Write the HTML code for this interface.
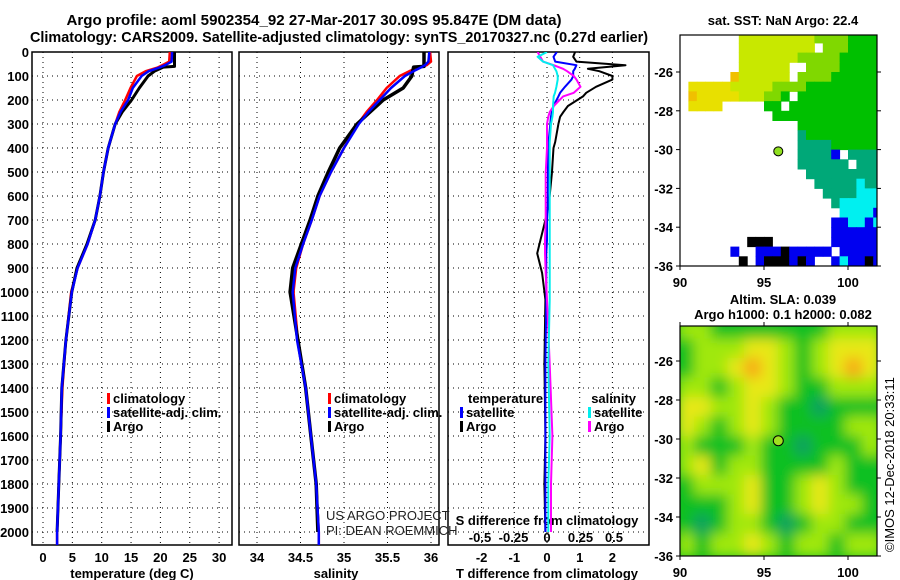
<!DOCTYPE html>
<html><head><meta charset="utf-8"><style>
html,body{margin:0;padding:0;background:#fff;}
svg{display:block;font-family:"Liberation Sans",sans-serif;}
.b{font-weight:bold;font-size:13px;}
.t{font-weight:bold;font-size:15px;}
</style></head><body>
<svg id="root" width="900" height="580" viewBox="0 0 900 580">
<defs>
<clipPath id="c1"><rect x="32" y="52" width="200" height="493"/></clipPath>
<clipPath id="c2"><rect x="239" y="52" width="200" height="493"/></clipPath>
<clipPath id="c3"><rect x="448" y="52" width="201" height="493"/></clipPath>
<clipPath id="cm2"><rect x="680" y="326" width="197" height="230"/></clipPath>
<filter id="blur" x="-10%" y="-10%" width="120%" height="120%"><feGaussianBlur stdDeviation="6.5"/></filter>
</defs>
<text x="314" y="25" text-anchor="middle" class="t" textLength="495" lengthAdjust="spacingAndGlyphs">Argo profile: aoml 5902354_92 27-Mar-2017 30.09S 95.847E (DM data)</text>
<text x="339" y="42" text-anchor="middle" class="t" textLength="618" lengthAdjust="spacingAndGlyphs">Climatology: CARS2009. Satellite-adjusted climatology: synTS_20170327.nc (0.27d earlier)</text>
<g id="g"></g>
</svg>
<script>
// ---- profile data ----
var depthsT = [0,40,55,65,80,100,150,200,250,300,400,500,600,700,800,900,1000,1200,1400,1600,1800,2000,2060];
var tempClim = [21.6,21.5,20.3,19.5,17.5,16.0,14.9,14.0,13.0,12.3,11.1,10.3,9.7,8.9,7.6,5.9,4.8,3.9,3.3,3.0,2.7,2.4,2.4];
var tempSat  = [22.0,21.9,20.8,19.8,18.0,16.8,15.3,14.5,13.2,12.3,11.1,10.3,9.7,8.9,7.6,5.9,4.9,3.9,3.2,3.0,2.7,2.4,2.4];
var depthsA = [0,60,63,80,100,150,200,250,300,400,500,600,700,800,900,1000,1200,1400,1600,1800,2000];
var tempArgo = [22.4,22.4,20.5,19.0,17.9,16.4,15.1,13.5,12.3,11.1,10.3,9.7,8.9,7.5,5.8,4.9,3.9,3.2,3.0,2.7,2.4];
var salClim = [35.99,36.0,35.95,35.85,35.75,35.64,35.49,35.38,35.26,35.16,35.0,34.85,34.72,34.63,34.53,34.45,34.42,34.47,34.56,34.62,34.68,34.71,34.71];
var salSat  = [35.98,35.97,35.93,35.88,35.80,35.70,35.54,35.41,35.28,35.17,35.0,34.85,34.72,34.63,34.53,34.44,34.41,34.46,34.56,34.62,34.68,34.71,34.71];
var salArgo = [35.92,35.92,35.80,35.79,35.78,35.68,35.45,35.30,35.15,34.95,34.82,34.70,34.61,34.51,34.41,34.38,34.47,34.56,34.62,34.68,34.70];
// ---- difference data ----
var depthsD = [0,20,40,55,70,80,100,115,145,170,185,225,250,270,300,375,400,505,644,700,783,839,921,1032,1300,1600,1800,2000];
var dTSat  = [0.3,0.2,0.25,0.9,0.85,0.8,0.8,0.75,0.55,0.4,0.35,0.2,0.15,0.12,0.1,0.05,0.03,0.03,0.02,0.0,0.0,-0.02,-0.02,-0.02,-0.05,-0.05,-0.05,-0.05];
var dTArgo = [0.86,0.8,0.9,2.4,1.25,1.6,2.0,2.0,1.5,1.2,1.1,0.64,0.5,0.4,0.35,0.25,0.2,0.15,0.05,-0.05,-0.2,-0.3,-0.15,-0.05,-0.08,-0.05,-0.08,-0.05];
var dSSat  = [0.0,-0.07,-0.03,0.045,0.06,0.07,0.08,0.08,0.07,0.06,0.05,0.045,0.045,0.04,0.03,0.02,0.02,0.02,0.02,0.02,0.02,0.02,0.02,0.02,0.01,0.02,0.01,0.01];
var dSArgo = [-0.07,-0.05,-0.03,0.05,0.12,0.15,0.2,0.22,0.25,0.2,0.12,0.05,0.02,0.01,0.0,0.0,0.0,-0.01,-0.01,-0.01,-0.015,-0.015,-0.01,0.0,0.02,0.04,0.03,0.03];
var depthTicks = [0,100,200,300,400,500,600,700,800,900,1000,1100,1200,1300,1400,1500,1600,1700,1800,1900,2000];
var tempTicks = [0,5,10,15,20,25,30];
var salTicks = [34,34.5,35,35.5,36];
var tdTicks = [-2,-1,0,1,2];
var sdTicks = [-0.5,-0.25,0,0.25,0.5];
var sdTickLabels = ["-0.5","-0.25","0","0.25","0.5"];
// ---- SST map (0.5 deg cells from 90E, -24S) ----
var sstRows = [
".......lllllllllmmmmgggg",
".......lllllllll.mmmgggg",
".......lllllllmmmmmggggg",
".......llllll..mmmmggggg",
"......ollllll.mmmmgggggg",
".yyyyylllllmmmmggggggggg",
".oyyyyylllmmg.gggggggggg",
".yyyy.....gg.ggggggggggg",
"...........ggggggggggggg",
"..............gggggggggg",
"..............tggggggggg",
"..............ttttgggggg",
"..............ttttb.tttt",
"..............tttttt.ttt",
"...............ttttttttt",
"................tttttctt",
".................ttttccc",
"..................tccccc",
"...................ccccb",
"..................bbccbc",
"..................bbbbbb",
"........kkk.......bbbbbb",
"......b..bbbkbbbbb.bbbbb",
".......k.bkkkbkb..bcbbkb"];
var sstColors = {y:"#e8e000",o:"#f0c000",l:"#c8e800",m:"#80d800",g:"#00c000",t:"#00a878",c:"#00f0f0",b:"#0000f0",k:"#000000"};
// ---- SLA map (1 deg cells from 90E, -24S) ----
var slaRows = [
[2,2,1,1,1,1,1,1,1,2,2,2],
[1,2,2,2,3,3,2,1,2,3,3,3],
[1,2,2,3,4,3,2,1,2,3,4,3],
[2,2,1,2,3,3,2,1,1,2,2,2],
[3,3,2,2,3,2,1,1,0,1,1,1],
[3,2,1,2,3,2,1,1,1,1,2,2],
[2,1,1,1,2,1,1,0,1,1,1,2],
[2,3,1,2,2,1,1,1,1,2,1,1],
[1,2,2,2,3,1,1,2,3,2,1,1],
[1,1,1,2,3,1,1,2,3,2,2,1],
[1,0,1,2,2,1,0,1,2,2,1,1],
[2,1,2,2,3,2,1,2,2,1,2,2]];
var slaColors = ["#10a060","#10c020","#a0e810","#e8e818","#f8a818"];
var floatLon = 95.85, floatLat = -30.09;

var NS="http://www.w3.org/2000/svg";
var G=document.getElementById('g');
function mk(tag,a,parent){var e=document.createElementNS(NS,tag);for(var k in a)e.setAttribute(k,a[k]);(parent||G).appendChild(e);return e;}
function txt(x,y,s,a,parent){var e=mk('text',a||{},parent);e.setAttribute('x',x);e.setAttribute('y',y);e.textContent=s;return e;}
function yD(d){return 52+d*0.24;}
function xT(t){return 43+t*5.87;}
function xS(s){return 257+(s-34)*87;}
function xTD(v){return 547+v*32.7;}
function xSD(v){return 547+v*134;}
function lonX1(l){return 680+(l-90)*16.8;}
function latY1(l){return 266-(l+36)*19.4;}
function latY2(l){return 556-(l+36)*19.5;}

var panels=[[32,'c1','temperature-panel'],[239,'c2','salinity-panel'],[448,'c3','difference-panel']];
panels.forEach(function(p){
  depthTicks.forEach(function(d){
    var l=mk('line',{x1:p[0],x2:p[0]+200,y1:yD(d),y2:yD(d),stroke:'#000','stroke-dasharray':'1,4','stroke-width':1});
    
    
  });
  var r=mk('rect',{x:p[0],y:52,width:p[0]==448?201:200,height:493,fill:'none',stroke:'#000','stroke-width':1.5});
  
  
});
depthTicks.forEach(function(d){
  var t=txt(29,yD(d)+5,String(d),{'text-anchor':'end','class':'b'});
  
  
});
tempTicks.forEach(function(v){
  var l=mk('line',{x1:xT(v),x2:xT(v),y1:52,y2:545,stroke:'#000','stroke-dasharray':'1,4'});
  
  
  var t=txt(xT(v),562,String(v),{'text-anchor':'middle','class':'b'});
  
  
});
salTicks.forEach(function(v){
  var l=mk('line',{x1:xS(v),x2:xS(v),y1:52,y2:545,stroke:'#000','stroke-dasharray':'1,4'});
  
  
  var t=txt(xS(v),562,String(v),{'text-anchor':'middle','class':'b'});
  
  
});
tdTicks.forEach(function(v){
  var l=mk('line',{x1:xTD(v),x2:xTD(v),y1:52,y2:545,stroke:'#000','stroke-dasharray':'1,4'});
  
  
  var t=txt(xTD(v),562,String(v),{'text-anchor':'middle','class':'b'});
  
  
});
sdTicks.forEach(function(v,i){
  var t=txt(xSD(v),542,sdTickLabels[i],{'text-anchor':'middle','class':'b'});
  
  
});
var xl1=txt(132,578,'temperature (deg C)',{'text-anchor':'middle','class':'b'});


var xl2=txt(336,578,'salinity',{'text-anchor':'middle','class':'b'});


var xl3=txt(547,578,'T difference from climatology',{'text-anchor':'middle','class':'b'});


var xl4=txt(547,525,'S difference from climatology',{'text-anchor':'middle','class':'b'});



function line(depths,vals,xf,color,w,clip,name){
  var pts=depths.map(function(d,i){return xf(vals[i]).toFixed(1)+','+yD(d).toFixed(1);}).join(' ');
  var e=mk('polyline',{points:pts,fill:'none',stroke:color,'stroke-width':w,'clip-path':'url(#'+clip+')','stroke-linejoin':'round'});
  
  
}
line(depthsT,tempClim,xT,'#ff0000',2.5,'c1','temperature-climatology-line');
line(depthsA,tempArgo,xT,'#000',3,'c1','temperature-argo-line');
line(depthsT,tempSat,xT,'#0000ff',2.5,'c1','temperature-satellite-line');
line(depthsT,salClim,xS,'#ff0000',2.5,'c2','salinity-climatology-line');
line(depthsA,salArgo,xS,'#000',3.5,'c2','salinity-argo-line');
line(depthsT,salSat,xS,'#0000ff',2.5,'c2','salinity-satellite-line');
line(depthsD,dTArgo,xTD,'#000',2,'c3','t-diff-argo-line');
line(depthsD,dTSat,xTD,'#0000ff',2,'c3','t-diff-satellite-line');
line(depthsD,dSArgo,xSD,'#ff00ff',2,'c3','s-diff-argo-line');
line(depthsD,dSSat,xSD,'#00eeee',2,'c3','s-diff-satellite-line');

function legend(x,y,color,label,name){
  var r=mk('rect',{x:x,y:y-10,width:3,height:11,fill:color});
  
  
  var t=txt(x+6,y,label,{'class':'b'});
  
  
}
legend(107,403,'#ff0000','climatology','legend-climatology');
legend(107,417,'#0000ff','satellite-adj. clim.','legend-satellite');
legend(107,431,'#000','Argo','legend-argo');
legend(328,403,'#ff0000','climatology','legend2-climatology');
legend(328,417,'#0000ff','satellite-adj. clim.','legend2-satellite');
legend(328,431,'#000','Argo','legend2-argo');
var lt=txt(468,403,'temperature',{'class':'b'});


legend(460,417,'#0000ff','satellite','legend-t-satellite');
legend(460,431,'#000','Argo','legend-t-argo');
var ls=txt(636,403,'salinity',{'class':'b','text-anchor':'end'});


legend(588,417,'#00eeee','satellite','legend-s-satellite');
legend(588,431,'#ff00ff','Argo','legend-s-argo');
var u1=txt(326,520,'US ARGO PROJECT',{'font-size':'13','fill':'#222'});


var u2=txt(326,535,'PI: DEAN ROEMMICH',{'font-size':'13','fill':'#222'});



// ---- SST map ----
sstRows.forEach(function(row,r){
  for(var c=0;c<row.length;c++){
    var ch=row[c]; if(ch=='.')continue;
    var lon=90+c*0.5, lat=-24-r*0.5;
    var x0=lonX1(lon), x1=Math.min(lonX1(lon+0.5),877), y0=Math.max(latY1(lat),35), y1=latY1(lat-0.5);
    var e=mk('rect',{x:x0.toFixed(1),y:y0.toFixed(1),width:(x1-x0+0.5).toFixed(1),height:(y1-y0+0.5).toFixed(1),fill:sstColors[ch]});
    
    
  }
});
var f1=mk('rect',{x:680,y:35,width:197,height:231,fill:'none',stroke:'#000','stroke-width':1.2});


var d1=mk('circle',{cx:lonX1(floatLon),cy:latY1(floatLat),r:4.5,fill:'#90e020',stroke:'#000','stroke-width':1});


var st=txt(783,25,'sat. SST: NaN Argo: 22.4',{'text-anchor':'middle','class':'b'});



// ---- SLA map ----
var sg=mk('g',{'clip-path':'url(#cm2)'});


var bg=mk('rect',{x:680,y:326,width:197,height:230,fill:slaColors[1]},sg);


var sb=mk('g',{filter:'url(#blur)'},sg);


slaRows.forEach(function(row,r){
  row.forEach(function(v,c){
    var lon=90+c, lat=-24-r;
    var e=mk('rect',{x:(lonX1(lon)-3).toFixed(1),y:(latY2(lat)-3).toFixed(1),width:20.8,height:23.5,fill:slaColors[v]},sb);
    
    
  });
});
var f2=mk('rect',{x:680,y:326,width:197,height:230,fill:'none',stroke:'#000','stroke-width':1.2});


var d2=mk('circle',{cx:lonX1(floatLon),cy:latY2(floatLat),r:5,fill:'#a0e020',stroke:'#000','stroke-width':1});


var s1=txt(783,304,'Altim. SLA: 0.039',{'text-anchor':'middle','class':'b'});


var s2=txt(783,319,'Argo h1000: 0.1 h2000: 0.082',{'text-anchor':'middle','class':'b'});



var latTicks=[-26,-28,-30,-32,-34,-36];
var lonTicks=[90,95,100];
latTicks.forEach(function(l){
  var a=txt(673,latY1(l)+5,String(l),{'text-anchor':'end','class':'b'});
  
  
  var b=txt(673,latY2(l)+5,String(l),{'text-anchor':'end','class':'b'});
  
  
  [latY1(l),latY2(l)].forEach(function(y){
    var k=mk('line',{x1:676,x2:680,y1:y,y2:y,stroke:'#000'});
    
    
    var k2=mk('line',{x1:877,x2:881,y1:y,y2:y,stroke:'#000'});
    
    
  });
});
lonTicks.forEach(function(l){
  var a=txt(lonX1(l),287,String(l),{'text-anchor':'middle','class':'b'});
  
  
  var b=txt(lonX1(l),577,String(l),{'text-anchor':'middle','class':'b'});
  
  
  [[266,270],[556,560],[322,326]].forEach(function(p){
    var k=mk('line',{x1:lonX1(l),x2:lonX1(l),y1:p[0],y2:p[1],stroke:'#000'});
    
    
  });
});
var cp=txt(0,0,'©IMOS 12-Dec-2018 20:33:11',{'font-size':'13','transform':'translate(894,552) rotate(-90)'});


</script>
</body></html>
